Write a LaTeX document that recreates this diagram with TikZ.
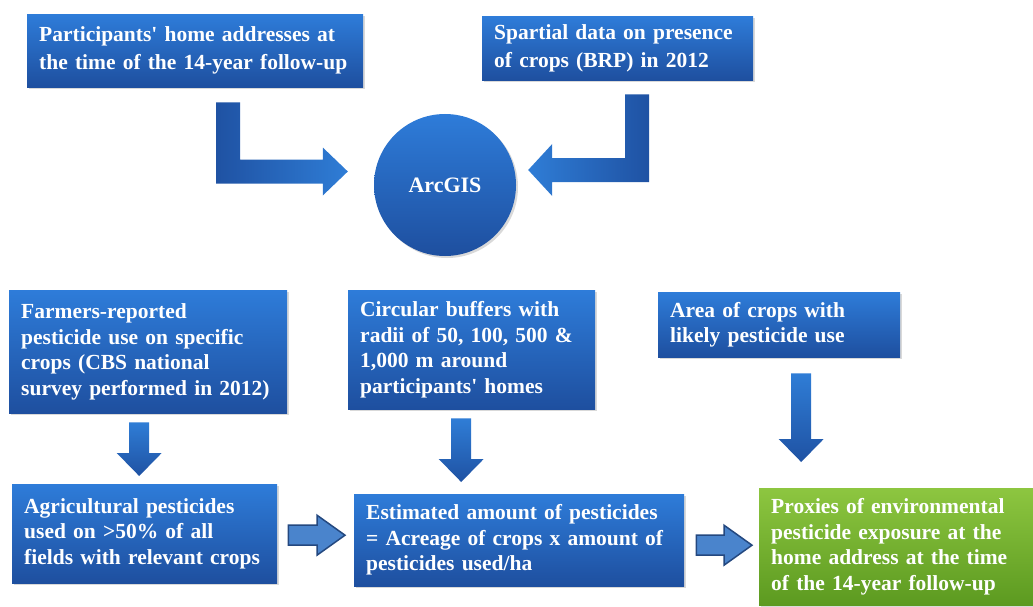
\documentclass[tikz,border=0pt]{standalone}
\usepackage{fontspec}
\setmainfont{Liberation Serif}
\usetikzlibrary{calc,shadows}

\definecolor{boxtop}{HTML}{2E7CD9}
\definecolor{boxbot}{HTML}{1E4F9F}
\definecolor{greentop}{HTML}{8DC640}
\definecolor{greenbot}{HTML}{5C9A20}
\definecolor{arrlight}{HTML}{2F7DD6}
\definecolor{arrdark}{HTML}{1F52A3}
\definecolor{outfill}{HTML}{4A84CC}
\definecolor{outedge}{HTML}{24487F}

\tikzset{
  box/.style={rectangle, anchor=north west, top color=boxtop, bottom color=boxbot,
    text=white, inner xsep=12pt, inner ysep=0pt, align=left,
    font=\bfseries\fontsize{21.5}{25.5}\selectfont,
    drop shadow={shadow xshift=2pt, shadow yshift=-2pt, opacity=.3}},
  topbox/.style={box, font=\bfseries\fontsize{21.5}{28}\selectfont},
  greenbox/.style={box, top color=greentop, bottom color=greenbot},
  downarr/.style={top color=arrlight, bottom color=arrdark, to path={
    ($(\tikztostart)+(-10,0)$) -- ($(\tikztostart |- \tikztotarget)+(-10,-23)$)
    -- ($(\tikztostart |- \tikztotarget)+(-22.5,-23)$) -- (\tikztostart |- \tikztotarget)
    -- ($(\tikztostart |- \tikztotarget)+(22.5,-23)$) -- ($(\tikztostart |- \tikztotarget)+(10,-23)$)
    -- ($(\tikztostart)+(10,0)$) -- cycle}},
  rightarr/.style={fill=outfill, draw=outedge, line width=1.5pt, line join=miter, to path={
    ($(\tikztostart)+(0,-10)$) -- ($(\tikztostart -| \tikztotarget)+(-28,-10)$)
    -- ($(\tikztostart -| \tikztotarget)+(-28,-20)$) -- (\tikztostart -| \tikztotarget)
    -- ($(\tikztostart -| \tikztotarget)+(-28,20)$) -- ($(\tikztostart -| \tikztotarget)+(-28,10)$)
    -- ($(\tikztostart)+(0,10)$) -- cycle}},
  bentright/.style={left color=arrdark, right color=arrlight, to path={
    ($(\tikztostart)+(-12,0)$) -- ($(\tikztostart |- \tikztotarget)+(-12,12)$)
    -- ($(\tikztotarget)+(-25,12)$) -- ($(\tikztotarget)+(-25,24)$) -- (\tikztotarget)
    -- ($(\tikztotarget)+(-25,-24)$) -- ($(\tikztotarget)+(-25,-12)$)
    -- ($(\tikztostart |- \tikztotarget)+(12,-12)$) -- ($(\tikztostart)+(12,0)$) -- cycle}},
  bentleft/.style={left color=arrlight, right color=arrdark, to path={
    ($(\tikztostart)+(12,0)$) -- ($(\tikztostart |- \tikztotarget)+(12,12)$)
    -- ($(\tikztotarget)+(24,12)$) -- ($(\tikztotarget)+(24,26)$) -- (\tikztotarget)
    -- ($(\tikztotarget)+(24,-26)$) -- ($(\tikztotarget)+(24,-12)$)
    -- ($(\tikztostart |- \tikztotarget)+(-12,-12)$) -- ($(\tikztostart)+(-12,0)$) -- cycle}}
}

\begin{document}
\begin{tikzpicture}[x=1pt,y=-1pt]
\clip (0,0) rectangle (1033,607);

\node[topbox, text width=312pt, minimum height=73pt] (part) at (27,14)
  {Participants\textquotesingle\ home addresses at\\the time of the 14-year follow-up};
\node[topbox, text width=247pt, minimum height=64pt] (spat) at (482,16)
  {Spartial data on presence\\of crops (BRP) in 2012};
\node[circle, minimum size=142pt, top color=boxtop, bottom color=boxbot, text=white,
  font=\bfseries\fontsize{22}{25.5}\selectfont,
  drop shadow={shadow xshift=2pt, shadow yshift=-2pt, opacity=.3}] (arcgis) at (445,185) {ArcGIS};

\node[box, text width=254pt, minimum height=123pt] (farmers) at (9,290)
  {Farmers-reported\\pesticide use on specific\\crops (CBS national\\survey performed in 2012)};
\node[box, text width=223pt, minimum height=119pt] (circ) at (348,290)
  {Circular buffers with\\radii of 50, 100, 500 \&\\1,000 m around\\participants\textquotesingle\ homes};
\node[box, text width=218pt, minimum height=65pt] (area) at (658,292)
  {Area of crops with\\likely pesticide use};

\node[box, text width=241pt, minimum height=99pt] (agri) at (12,484)
  {Agricultural pesticides\\used on >50\% of all\\fields with relevant crops};
\node[box, text width=306pt, minimum height=92pt] (est) at (354,494)
  {Estimated amount of pesticides\\= Acreage of crops x amount of\\pesticides used/ha};
\node[greenbox, text width=266pt, minimum height=117pt] (prox) at (759,488)
  {Proxies of environmental\\pesticide exposure at the\\home address at the time\\of the 14-year follow-up};

% arrows
\path[bentright] ([xshift=33pt,yshift=-15pt]part.south) to ([xshift=-26pt,yshift=13.5pt]arcgis.west);
\path[bentleft] ([xshift=19.5pt,yshift=-14pt]spat.south) to ([xshift=12pt,yshift=15pt]arcgis.east);

\path[downarr] ([xshift=-9pt,yshift=-9pt]farmers.south) to ([yshift=8pt]agri.north);
\path[downarr] ([xshift=-10.5pt,yshift=-9pt]circ.south) to ([yshift=12pt]est.north);
\path[downarr] ([xshift=22pt,yshift=-16pt]area.south) to ([yshift=26pt]prox.north);

\path[rightarr] ([xshift=11pt,yshift=-1.5pt]agri.east) to ([xshift=-9pt]est.west);
\path[rightarr] ([xshift=12pt,yshift=-5pt]est.east) to ([xshift=-7pt]prox.west);

\end{tikzpicture}
\end{document}
